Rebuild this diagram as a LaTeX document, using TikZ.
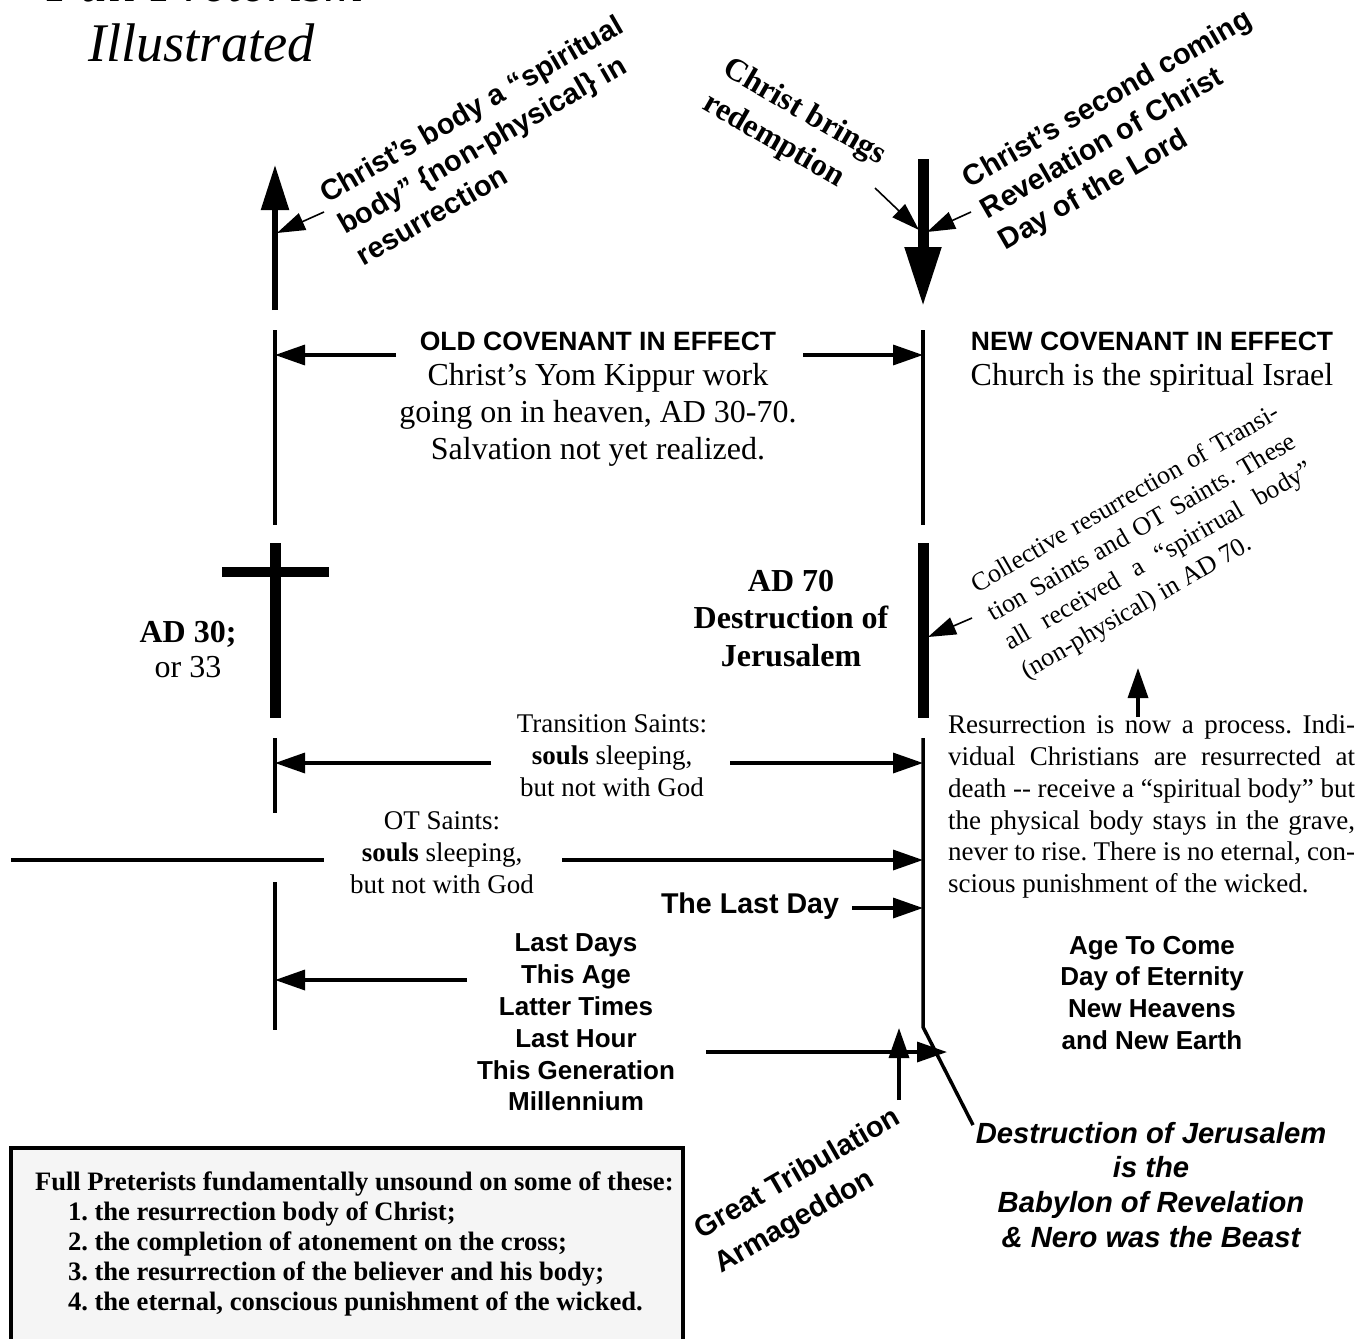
\documentclass[tikz,border=0pt]{standalone}
\usepackage{fontspec}
\setmainfont{Liberation Serif}
\newfontfamily\sansfont{Liberation Sans}
\usetikzlibrary{arrows.meta}

% stretch one line of a justified paragraph to a given width
\newcommand{\jline}[2]{\makebox[#1][s]{#2}}

\begin{document}
\frenchspacing
\begin{tikzpicture}[x=0.5pt, y=-0.5pt,
    every node/.style={inner sep=0pt, outer sep=0pt},
    thinline/.style={line width=1.75pt},
    heavyline/.style={line width=5.5pt},
    arr/.style={line width=1.7pt, -{Triangle[length=15pt, width=10pt]}},
    pointer/.style={line width=0.8pt, -{Triangle[length=14pt, width=9pt]}},
    headsans/.style={font={\sansfont\bfseries\fontsize{13.25}{15.9}\selectfont}},
    listsans/.style={font={\sansfont\bfseries\fontsize{13}{15.9}\selectfont}, align=center},
    slantsans/.style={font={\sansfont\bfseries\fontsize{14.5}{18}\selectfont}, align=left, rotate=30},
    bodyserif/.style={font={\fontsize{16}{18.5}\selectfont}, align=center},
    smallserif/.style={font={\fontsize{13.5}{16}\selectfont}, align=center},
    boldserif/.style={font={\bfseries\fontsize{16}{18.75}\selectfont}, align=center}]
    \clip (0,0) rectangle (1369,1338);

    % Title
    \node[font={\itshape\fontsize{27.2}{30}\selectfont}, anchor=base west] (title) at (47,2) {Full Preterism};
    \node[font={\itshape\fontsize{27.2}{30}\selectfont}, anchor=base west] (subtitle) at (88,62) {Illustrated};

    % Upper arrows
    \coordinate (riseBot) at (275,310);
    \coordinate (riseTop) at (275,165);
    \draw[line width=2.75pt, -{Triangle[length=22.5pt, width=13.5pt]}] (riseBot) -- (riseTop);
    \coordinate (comeTop) at (923,159);
    \coordinate (comeBot) at (923,307);
    \draw[line width=5.5pt, -{Triangle[length=30pt, width=17pt]}] (comeTop) -- (comeBot);

    % Time lines
    \draw[thinline] (275,330) -- (275,525);
    \draw[thinline] (923,330) -- (923,525);
    \draw[heavyline] (275,543) -- (275,718);
    \draw[line width=5pt] (222,572) -- (329,572);
    \draw[heavyline] (923,543) -- (923,718);
    \draw[thinline] (275,738) -- (275,813);
    \draw[thinline] (275,882) -- (275,1030);
    \draw[thinline] (923,738) -- (923,1027) -- (973,1125);

    % Rotated labels at the top
    \node[slantsans] (body) at (489,140) {Christ’s body a “spiritual\\body” \{non-physical\} in\\resurrection};
    \node[font={\bfseries\fontsize{16}{20}\selectfont}, align=left, rotate=-30] (redeem) at (794,130) {Christ brings\\redemption};
    \node[slantsans] (second) at (1126,131) {Christ’s second coming\\Revelation of Christ\\Day of the Lord};
    \coordinate (bodyTip) at (277,233);
    \coordinate (redeemTip) at (919,230);
    \coordinate (secondTip) at (927,232);
    \draw[pointer] (324,212) -- (bodyTip);
    \draw[pointer] (875,188) -- (redeemTip);
    \draw[pointer] (971,212) -- (secondTip);

    % Covenants
    \node[headsans, anchor=base] (oldhead) at (598,350) {OLD COVENANT IN EFFECT};
    \node[bodyserif, anchor=north] (oldbody) at (598,363) {Christ’s Yom Kippur work\\going on in heaven, AD 30-70.\\Salvation not yet realized.};
    \node[headsans, anchor=base] (newhead) at (1152,350) {NEW COVENANT IN EFFECT};
    \node[bodyserif, anchor=base] (newbody) at (1152,385) {Church is the spiritual Israel};
    \coordinate (oldL) at (275,355);
    \coordinate (oldLt) at (396,355);
    \coordinate (oldR) at (923,355);
    \coordinate (oldRt) at (803,355);
    \draw[arr] (oldLt) -- (oldL);
    \draw[arr] (oldRt) -- (oldR);

    % AD 30 and AD 70
    \node[font={\fontsize{16}{17.5}\selectfont}, align=center, anchor=north] (ad30) at (188,621) {\textbf{AD 30;}\\or 33};
    \node[boldserif, anchor=north] (ad70) at (791,570) {AD 70\\Destruction of\\Jerusalem};
    \node[font={\fontsize{13}{16.6}\selectfont}, align=left, rotate=30] (collect) at (1151,543)
        {\jline{175.5pt}{Collective resurrection of Transi-}\\
         \jline{175.5pt}{tion Saints and OT Saints. These}\\
         \jline{175.5pt}{all received a “spirirual body”}\\
         (non-physical) in AD 70.};
    \coordinate (collectTip) at (928,637);
    \draw[pointer] (972,618) -- (collectTip);

    % Saints
    \node[smallserif, anchor=north] (trans) at (612,715) {Transition Saints:\\\textbf{souls} sleeping,\\but not with God};
    \node[smallserif, anchor=north] (ots) at (442,812) {OT Saints:\\\textbf{souls} sleeping,\\but not with God};
    \coordinate (transL) at (275,763);
    \coordinate (transLt) at (491,763);
    \coordinate (transR) at (923,763);
    \coordinate (transRt) at (730,763);
    \draw[arr] (transLt) -- (transL);
    \draw[arr] (transRt) -- (transR);
    \coordinate (otsFar) at (11,860);
    \coordinate (otsNear) at (324,860);
    \coordinate (otsR) at (923,860);
    \coordinate (otsRt) at (562,860);
    \draw[line width=1.7pt] (otsFar) -- (otsNear);
    \draw[arr] (otsRt) -- (otsR);

    % Resurrection now
    \node[font={\fontsize{13.5}{15.9}\selectfont}, align=left, anchor=north west] (process) at (948,715)
        {\jline{203.5pt}{Resurrection is now a process. Indi-}\\
         \jline{203.5pt}{vidual Christians are resurrected at}\\
         \jline{203.5pt}{death -{}- receive a “spiritual body” but}\\
         \jline{203.5pt}{the physical body stays in the grave,}\\
         \jline{203.5pt}{never to rise. There is no eternal, con-}\\
         scious punishment of the wicked.};
    \coordinate (processTip) at (1138,668);
    \coordinate (processFoot) at (1138,717);
    \draw[arr] (processFoot) -- (processTip);

    % Last day and the ages
    \node[font={\sansfont\bfseries\fontsize{14.3}{17}\selectfont}, anchor=base] (lastday) at (750,913) {The Last Day};
    \coordinate (lastdayTip) at (923,908);
    \coordinate (lastdayTail) at (852,908);
    \draw[arr] (lastdayTail) -- (lastdayTip);
    \node[listsans, anchor=north] (ages) at (576,934) {Last Days\\This Age\\Latter Times\\Last Hour\\This Generation\\Millennium};
    \node[listsans, anchor=north] (tocome) at (1152,936) {Age To Come\\Day of Eternity\\New Heavens\\and New Earth};
    \coordinate (agesL) at (275,980);
    \coordinate (agesLt) at (467,980);
    \coordinate (hourTip) at (947,1052);
    \coordinate (hourTail) at (706,1052);
    \draw[arr] (agesLt) -- (agesL);
    \draw[arr] (hourTail) -- (hourTip);

    % Bottom labels
    \node[font={\sansfont\bfseries\fontsize{14.5}{20}\selectfont}, align=left, rotate=30] (tribul) at (808,1192) {Great Tribulation\\Armageddon};
    \coordinate (tribulTip) at (899,1028);
    \coordinate (tribulFoot) at (899,1100);
    \draw[arr] (tribulFoot) -- (tribulTip);
    \node[font={\sansfont\bfseries\itshape\fontsize{14.6}{17.35}\selectfont}, align=center, anchor=north] (babylon) at (1151,1122)
        {Destruction of Jerusalem\\is the\\Babylon of Revelation\\\& Nero was the Beast};

    % Summary box
    \draw[line width=2pt, fill=black!4] (11,1148) rectangle (683,1360);
    \node[font={\bfseries\fontsize{13.3}{15}\selectfont}, align=left, anchor=north west] (unsound) at (35,1172)
        {Full Preterists fundamentally unsound on some of these:\\
         \hspace*{16.5pt}1. the resurrection body of Christ;\\
         \hspace*{16.5pt}2. the completion of atonement on the cross;\\
         \hspace*{16.5pt}3. the resurrection of the believer and his body;\\
         \hspace*{16.5pt}4. the eternal, conscious punishment of the wicked.};
\end{tikzpicture}
\end{document}
